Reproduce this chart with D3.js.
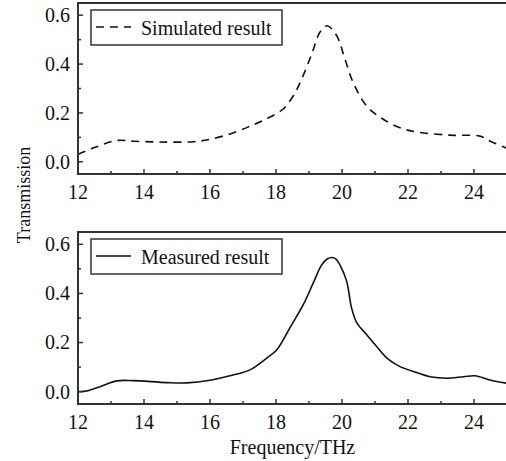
<!DOCTYPE html>
<meta charset="utf-8">
<head>
<style>
  body { margin: 0; background: #fff; }
  text { font-family: "Liberation Serif", "Times New Roman", serif; fill: #111; }
</style>
</head>
<body>
<script src="https://cdn.jsdelivr.net/npm/d3@7"></script>
<script>

// frequency (THz) and transmission
var simFreq = [12.0, 12.5, 13.15, 13.7, 14.5, 15.5, 16.0, 16.7, 17.25, 17.7, 18.2, 18.5, 18.73, 19.08, 19.33, 19.55, 19.84, 20.09, 20.34, 20.75, 21.25, 21.76, 22.26, 23.27, 24.18, 24.48, 25.0];
var simVal  = [0.03, 0.058, 0.087, 0.084, 0.081, 0.082, 0.092, 0.118, 0.148, 0.175, 0.214, 0.265, 0.324, 0.44, 0.53, 0.557, 0.516, 0.42, 0.324, 0.228, 0.174, 0.139, 0.122, 0.109, 0.105, 0.085, 0.055];

var meaFreq = [12.0, 12.3, 12.7, 13.17, 13.67, 14.69, 15.3, 16.0, 16.7, 17.21, 17.72, 18.02, 18.42, 18.83, 19.13, 19.38, 19.55, 19.69, 19.82, 19.94, 20.14, 20.29, 20.45, 20.75, 21.05, 21.36, 21.76, 22.26, 22.67, 23.17, 23.68, 24.03, 24.48, 25.0];
var meaVal  = [0.0, 0.004, 0.022, 0.044, 0.045, 0.037, 0.036, 0.047, 0.068, 0.089, 0.137, 0.17, 0.26, 0.355, 0.443, 0.515, 0.54, 0.546, 0.54, 0.515, 0.45, 0.341, 0.28, 0.232, 0.184, 0.137, 0.102, 0.078, 0.061, 0.055, 0.061, 0.065, 0.048, 0.034];

var xTicks = [12, 14, 16, 18, 20, 22, 24];
var yTicks = [0.0, 0.2, 0.4, 0.6];
var legendNames = ["Simulated result", "Measured result"];

var W = 506, H = 461;
var svg = d3.select("body").append("svg")
    .attr("width", W).attr("height", H);

var x = d3.scaleLinear().domain([12, 25]).range([78, 507]);

var panels = [
  {freq: simFreq, val: simVal, top: 3, bottom: 174, dash: "8,6", name: legendNames[0]},
  {freq: meaFreq, val: meaVal, top: 232, bottom: 404, dash: null, name: legendNames[1]}
];

var axisColor = "#333";

panels.forEach(function(p){
  var y = d3.scaleLinear().domain([-0.05, 0.65]).range([p.bottom, p.top]);
  var g = svg.append("g");

  // line
  var line = d3.line()
      .x(function(d){ return x(d[0]); })
      .y(function(d){ return y(d[1]); })
      .curve(d3.curveCatmullRom.alpha(0.5));

  g.append("path")
    .datum(d3.zip(p.freq, p.val))
    .attr("fill", "none")
    .attr("stroke", "#111")
    .attr("stroke-width", 1.6)
    .attr("stroke-dasharray", p.dash)
    .attr("d", line);

  // frame: left, top, bottom
  g.append("path")
    .attr("fill", "none")
    .attr("stroke", axisColor)
    .attr("stroke-width", 2)
    .attr("d", "M" + x(25) + "," + p.top + "H" + x(12) + "V" + p.bottom + "H" + x(25));

  // x ticks, pointing inward
  var xMinor = d3.range(13, 25, 2);
  g.selectAll(".xt").data(xTicks).enter().append("line")
    .attr("x1", function(d){ return x(d); }).attr("x2", function(d){ return x(d); })
    .attr("y1", p.bottom).attr("y2", p.bottom - 5)
    .attr("stroke", axisColor).attr("stroke-width", 1.5);
  g.selectAll(".xm").data(xMinor).enter().append("line")
    .attr("x1", function(d){ return x(d); }).attr("x2", function(d){ return x(d); })
    .attr("y1", p.bottom).attr("y2", p.bottom - 3)
    .attr("stroke", axisColor).attr("stroke-width", 1.5);
  g.selectAll(".xl").data(xTicks).enter().append("text")
    .attr("x", function(d){ return x(d); })
    .attr("y", p.bottom + 25)
    .attr("text-anchor", "middle")
    .attr("font-size", 20)
    .text(function(d){ return d; });

  // y ticks
  var yMinor = [0.1, 0.3, 0.5];
  g.selectAll(".yt").data(yTicks).enter().append("line")
    .attr("x1", x(12)).attr("x2", x(12) + 5)
    .attr("y1", function(d){ return y(d); }).attr("y2", function(d){ return y(d); })
    .attr("stroke", axisColor).attr("stroke-width", 1.5);
  g.selectAll(".ym").data(yMinor).enter().append("line")
    .attr("x1", x(12)).attr("x2", x(12) + 3)
    .attr("y1", function(d){ return y(d); }).attr("y2", function(d){ return y(d); })
    .attr("stroke", axisColor).attr("stroke-width", 1.5);
  g.selectAll(".yl").data(yTicks).enter().append("text")
    .attr("x", 70)
    .attr("y", function(d){ return y(d); })
    .attr("dy", "0.34em")
    .attr("text-anchor", "end")
    .attr("font-size", 20)
    .text(function(d){ return d3.format(".1f")(d); });

  // legend
  var lx = 91, ly = p.top + 7;
  g.append("rect")
    .attr("x", lx).attr("y", ly).attr("width", 191).attr("height", 35)
    .attr("fill", "#fff").attr("stroke", axisColor).attr("stroke-width", 1.5);
  g.append("line")
    .attr("x1", lx + 5).attr("x2", lx + 40)
    .attr("y1", ly + 17).attr("y2", ly + 17)
    .attr("stroke", "#111").attr("stroke-width", 1.6)
    .attr("stroke-dasharray", p.dash);
  g.append("text")
    .attr("x", lx + 50).attr("y", ly + 25)
    .attr("font-size", 20)
    .text(p.name);
});

svg.append("text")
  .attr("x", (x(12) + 507) / 2)
  .attr("y", 454)
  .attr("text-anchor", "middle")
  .attr("font-size", 20)
  .text("Frequency/THz");

svg.append("text")
  .attr("transform", "translate(30,195) rotate(-90)")
  .attr("text-anchor", "middle")
  .attr("font-size", 18)
  .text("Transmission");

</script>
</body>
